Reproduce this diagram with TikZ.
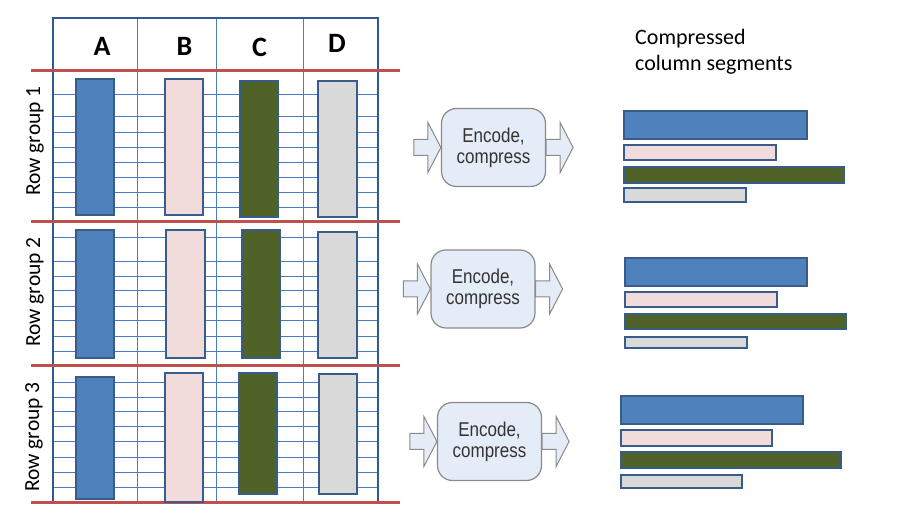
\documentclass[tikz,border=0pt]{standalone}
\usepackage{fontspec}
\setmainfont{Carlito}
\newfontfamily\boxfont[FakeStretch=0.85]{Liberation Sans}

\definecolor{colA}{HTML}{4F81BD}
\definecolor{colB}{HTML}{F2DCDB}
\definecolor{colC}{HTML}{4F6228}
\definecolor{colD}{HTML}{D9D9D9}
\definecolor{barline}{HTML}{385D8A}
\definecolor{sepred}{HTML}{C0504D}
\definecolor{gridblue}{HTML}{4A7CC4}
\definecolor{frameblue}{HTML}{2F5A98}
\definecolor{boxfill}{HTML}{E4ECF7}
\definecolor{boxgray}{HTML}{8A8A8A}

\tikzset{
  gridline/.style={draw=gridblue, line width=0.8pt},
  tableframe/.style={draw=frameblue, line width=1.5pt},
  sepline/.style={draw=sepred, line width=3pt},
  colbar/.style={draw=barline, line width=2pt},
  colhead/.style={font=\fontsize{28}{32}\selectfont\bfseries},
  rowlabel/.style={rotate=90, font=\fontsize{21.5}{24}\selectfont},
  encbox/.style={draw=boxgray, fill=boxfill, line width=1.2pt, rounded corners=15pt,
    minimum width=104pt, minimum height=78pt, align=center,
    text=black!80, font=\boxfont\fontsize{20}{21}\selectfont},
  fatarrow/.pic={
    \draw[draw=boxgray, fill=boxfill, line width=1pt]
      (0,-8) -- (14,-8) -- (14,-25) -- (27,0) -- (14,25) -- (14,8) -- (0,8) -- cycle;
  }
}

\begin{document}
\begin{tikzpicture}[x=1pt, y=-1pt, every node/.style={font=\fontsize{22}{26}\selectfont}]
    \useasboundingbox (0,0) rectangle (916,518);

    % Table rows
    \foreach \y in {94,116,132,147,162,177,192,207,
                    237,261,276,290,306,320,336,351,
                    382,397,411,426,441,457,472,487}
        \draw[gridline] (53,\y) -- (378,\y);

    % Column separators and frame
    \foreach \x in {137,216,303}
        \draw[gridline] (\x,18) -- (\x,502);
    \draw[tableframe] (53,502) -- (53,18) -- (378,18) -- (378,502);

    % Column headers
    \node[colhead] (hA) at (102,46) {A};
    \node[colhead] (hB) at (184.5,46) {B};
    \node[colhead] (hC) at (259.5,47) {C};
    \node[colhead] (hD) at (337,43) {D};

    % Row group separators
    \foreach \y in {71,222,366,502}
        \draw[sepline] (31,\y) -- (400,\y);

    % Row group labels
    \node[rowlabel] (rg1) at (35,141) {Row group 1};
    \node[rowlabel] (rg2) at (35,292) {Row group 2};
    \node[rowlabel] (rg3) at (34,437) {Row group 3};

    % Column chunks, row group 1
    \draw[colbar, fill=colA] (76,79) rectangle (114,215);
    \draw[colbar, fill=colB] (165,79) rectangle (203,215);
    \draw[colbar, fill=colC] (240,81) rectangle (278,217);
    \draw[colbar, fill=colD] (318,81) rectangle (357,217);

    % Column chunks, row group 2
    \draw[colbar, fill=colA] (76,230) rectangle (114,358);
    \draw[colbar, fill=colB] (166,230) rectangle (205,358);
    \draw[colbar, fill=colC] (242,230) rectangle (280,358);
    \draw[colbar, fill=colD] (318,232) rectangle (357,358);

    % Column chunks, row group 3
    \draw[colbar, fill=colA] (76,377) rectangle (114,499);
    \draw[colbar, fill=colB] (165,373) rectangle (203,502);
    \draw[colbar, fill=colC] (239,373) rectangle (277,494);
    \draw[colbar, fill=colD] (319,374) rectangle (357,494);

    % Encoders
    \node[encbox] (enc1) at (493.5,147.5) {Encode,\\compress};
    \path (enc1.west) ++(-27,0) pic {fatarrow};
    \path (enc1.east) pic {fatarrow};

    \node[encbox] (enc2) at (483,289) {Encode,\\compress};
    \path (enc2.west) ++(-27,0) pic {fatarrow};
    \path (enc2.east) pic {fatarrow};

    \node[encbox] (enc3) at (489.5,441.5) {Encode,\\compress};
    \path (enc3.west) ++(-27,0) pic {fatarrow};
    \path (enc3.east) pic {fatarrow};

    % Output title
    \node[anchor=north west, inner sep=0pt, align=left] (title) at (635,29.5)
        {Compressed\\column segments};

    % Compressed segments, row group 1
    \draw[colbar, fill=colA] (624,111) rectangle (807,139);
    \draw[colbar, fill=colB] (624,145) rectangle (776,160);
    \draw[colbar, fill=colC] (624,167) rectangle (844,183);
    \draw[colbar, fill=colD] (624,188) rectangle (746,202);

    % Compressed segments, row group 2
    \draw[colbar, fill=colA] (625,258) rectangle (807,286);
    \draw[colbar, fill=colB] (625,292) rectangle (777,307);
    \draw[colbar, fill=colC] (625,314) rectangle (846,329);
    \draw[colbar, fill=colD] (625,337) rectangle (747,348);

    % Compressed segments, row group 3
    \draw[colbar, fill=colA] (621,396) rectangle (803,424);
    \draw[colbar, fill=colB] (621,430) rectangle (772,446);
    \draw[colbar, fill=colC] (621,452) rectangle (841,468);
    \draw[colbar, fill=colD] (621,475) rectangle (742,488);
\end{tikzpicture}
\end{document}
